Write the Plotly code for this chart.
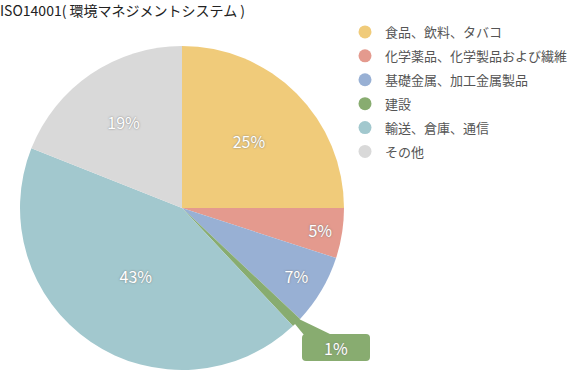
import math
import plotly.graph_objects as go

title = "ISO14001( 環境マネジメントシステム )"
categories = ["食品、飲料、タバコ", "化学薬品、化学製品および繊維", "基礎金属、加工金属製品",
              "建設", "輸送、倉庫、通信", "その他"]
values = [25, 5, 7, 1, 43, 19]
colors = ["#F0CB7A", "#E49A8E", "#98B0D4", "#88AC70", "#A2C8CE", "#D9D9D9"]

W, H = 570, 388
FONT = "Noto Sans CJK JP"
# pie geometry in pixels
cx, cy, R = 182, 208, 162

labels_txt = [f"{v}%" if v >= 3 else "" for v in values]

fig = go.Figure()
fig.add_trace(go.Pie(
    labels=categories, values=values, sort=False, direction="clockwise", rotation=0,
    marker=dict(colors=colors, line=dict(width=0)),
    text=labels_txt, textinfo="text", textposition="inside",
    insidetextorientation="horizontal",
    textfont=dict(family=FONT, size=16, color="white", shadow="0px 0px 2px #777"),
    hoverinfo="label+percent",
    domain=dict(x=[(cx - R) / W, (cx + R) / W], y=[(H - cy - R) / H, (H - cy + R) / H]),
    showlegend=False,
))

# legend entries with round markers
for i, (c, col) in enumerate(zip(categories, colors)):
    fig.add_trace(go.Scatter(x=[None], y=[None], mode="markers", name=c,
                             legendgroup=f"g{i}",
                             marker=dict(symbol="circle", size=13, color=col),
                             showlegend=True, hoverinfo="skip"))

# small slice label (1%) with connector
small_idx = 3
cum = sum(values[:small_idx]) + values[small_idx] / 2
ang = 2 * math.pi * cum / sum(values)
tipx = cx + 0.93 * R * math.sin(ang)
tipy = cy + 0.93 * R * -math.cos(ang)
bx0, bx1, by0, by1 = 302, 370, 334, 361

def px(x):
    return x / W

def py(y):
    return (H - y) / H

path = (f"M {px(tipx-3)} {py(tipy-2)} L {px(bx0+30)} {py(by0+1)} "
        f"L {px(bx0+2)} {py(by0+1)} Z")
fig.add_shape(type="path", path=path, xref="paper", yref="paper",
              fillcolor=colors[small_idx], line=dict(width=0), layer="above")
r = 4
box = (f"M {px(bx0+r)} {py(by0)} L {px(bx1-r)} {py(by0)} Q {px(bx1)} {py(by0)} {px(bx1)} {py(by0+r)} "
       f"L {px(bx1)} {py(by1-r)} Q {px(bx1)} {py(by1)} {px(bx1-r)} {py(by1)} "
       f"L {px(bx0+r)} {py(by1)} Q {px(bx0)} {py(by1)} {px(bx0)} {py(by1-r)} "
       f"L {px(bx0)} {py(by0+r)} Q {px(bx0)} {py(by0)} {px(bx0+r)} {py(by0)} Z")
fig.add_shape(type="path", path=box, xref="paper", yref="paper",
              fillcolor=colors[small_idx], line=dict(width=0), layer="above")
fig.add_annotation(x=px((bx0 + bx1) / 2), y=py((by0 + by1) / 2), xref="paper", yref="paper",
                   xanchor="center", yanchor="middle",
                   text=f"{values[small_idx]}%", showarrow=False,
                   font=dict(family=FONT, size=16, color="white", shadow="0px 0px 2px #777"))

fig.add_annotation(x=0, y=1, xref="paper", yref="paper", xanchor="left", yanchor="top",
                   text=title, showarrow=False, xshift=-2, yshift=2,
                   font=dict(family=FONT, size=14, color="#222"))

fig.update_layout(
    width=W, height=H, margin=dict(l=0, r=0, t=0, b=0, autoexpand=False),
    paper_bgcolor="white", plot_bgcolor="white",
    xaxis=dict(visible=False), yaxis=dict(visible=False),
    legend=dict(x=px(345), y=py(17), xanchor="left", yanchor="top",
                font=dict(family=FONT, size=13, color="#555"),
                traceorder="grouped", itemwidth=30, tracegroupgap=4,
                bgcolor="rgba(0,0,0,0)"),
    font=dict(family=FONT),
)

fig.write_html("out.html", config={"displayModeBar": False},
               post_script="document.body.style.margin='0';")
